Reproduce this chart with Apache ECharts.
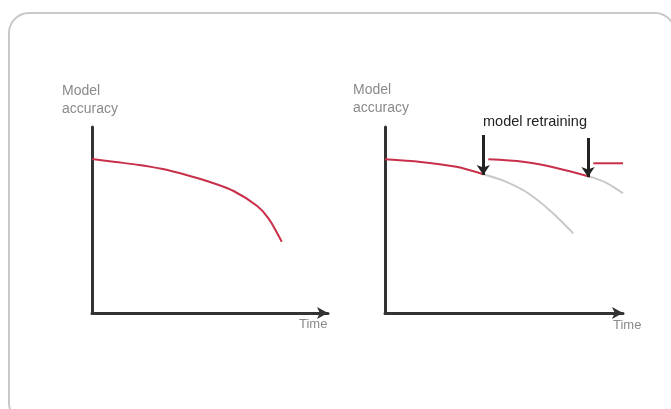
<!DOCTYPE html>
<html>
<head>
<meta charset="utf-8">
<script src="https://cdn.jsdelivr.net/npm/echarts@6/dist/echarts.min.js"></script>
<style>
  html, body { margin: 0; padding: 0; background: #fff; }
  #chart { width: 671px; height: 409px; }
</style>
</head>
<body>
<div id="chart"></div>
<script>
// left panel: accuracy decays over time
var decayX = [0, 10, 20, 30, 40, 50, 60, 70, 75, 80.4]
var decayY = [82.8, 81.2, 79.6, 77.4, 74.2, 70.4, 65.6, 57.5, 50.5, 38.3]

// right panel: with retraining
var retrain1X = [0, 15, 30, 41.3]
var retrain1Y = [82.6, 81.2, 78.6, 74.6]
var retrain2X = [43.4, 58, 72, 86.1]
var retrain2Y = [82.6, 81.3, 78.0, 73.3]
var retrain3X = [87.5, 100]
var retrain3Y = [80.5, 80.5]
var ghost1X = [41.3, 50, 60, 70, 79.1]
var ghost1Y = [74.6, 71.0, 64.5, 54.3, 42.8]
var ghost2X = [86.1, 93, 100]
var ghost2Y = [73.3, 70.0, 64.4]

// retraining arrows: x, top, bottom
var arrowX = [41.3, 85.3]
var arrowTop = [95.7, 94.1]
var arrowBottom = [74.2, 73.1]

var yName = 'Model\naccuracy'
var xName = 'Time'
var retrainLabel = 'model retraining'

function pairs(xs, ys) {
  return xs.map(function (x, i) { return [x, ys[i]] })
}

var axisColor = '#333'
var red = '#c8304a'
var ghost = '#c8c8c8'

var chart = echarts.init(document.getElementById('chart'))

function xAxisOf(gridIndex) {
  return {
    type: 'value', gridIndex: gridIndex, min: 0, max: 100,
    splitLine: { show: false },
    axisTick: { show: false },
    axisLabel: { show: false },
    axisLine: {
      show: true,
      symbol: ['none', 'arrow'],
      symbolSize: [9, 11],
      lineStyle: { color: axisColor, width: 3 }
    }
  }
}
function yAxisOf(gridIndex) {
  return {
    type: 'value', gridIndex: gridIndex, min: 0, max: 100,
    splitLine: { show: false },
    axisTick: { show: false },
    axisLabel: { show: false },
    axisLine: { show: true, lineStyle: { color: axisColor, width: 3 } }
  }
}

var lineBase = { type: 'line', smooth: 0.3, symbol: 'none', animation: false }

chart.setOption({
  animation: false,
  grid: [
    { left: 92, top: 127, width: 236, height: 186 },
    { left: 385, top: 127, width: 238, height: 186 }
  ],
  xAxis: [xAxisOf(0), xAxisOf(1)],
  yAxis: [yAxisOf(0), yAxisOf(1)],
  graphic: [
    {
      type: 'rect', silent: true,
      shape: { x: 9, y: 13, width: 666, height: 410, r: 20 },
      style: { fill: 'none', stroke: '#c8c8c8', lineWidth: 2 }
    },
    { type: 'text', left: 62, top: 82, style: { text: yName, fill: '#8a8a8a', font: '14px Liberation Sans', lineHeight: 18 } },
    { type: 'text', left: 353, top: 81, style: { text: yName, fill: '#8a8a8a', font: '14px Liberation Sans', lineHeight: 18 } },
    { type: 'text', left: 299, top: 318, style: { text: xName, fill: '#8a8a8a', font: '13px Liberation Sans' } },
    { type: 'text', left: 613, top: 319, style: { text: xName, fill: '#8a8a8a', font: '13px Liberation Sans' } },
    { type: 'text', left: 483, top: 114, style: { text: retrainLabel, fill: '#222', font: '14.5px Liberation Sans' } }
  ],
  series: [
    Object.assign({}, lineBase, {
      xAxisIndex: 0, yAxisIndex: 0, data: pairs(decayX, decayY),
      lineStyle: { color: red, width: 2 }
    }),
    Object.assign({}, lineBase, {
      xAxisIndex: 1, yAxisIndex: 1, data: pairs(ghost1X, ghost1Y),
      lineStyle: { color: ghost, width: 2 }
    }),
    Object.assign({}, lineBase, {
      xAxisIndex: 1, yAxisIndex: 1, data: pairs(ghost2X, ghost2Y),
      lineStyle: { color: ghost, width: 2 }
    }),
    Object.assign({}, lineBase, {
      xAxisIndex: 1, yAxisIndex: 1, data: pairs(retrain1X, retrain1Y),
      lineStyle: { color: red, width: 2 }
    }),
    Object.assign({}, lineBase, {
      xAxisIndex: 1, yAxisIndex: 1, data: pairs(retrain2X, retrain2Y),
      lineStyle: { color: red, width: 2 }
    }),
    Object.assign({}, lineBase, {
      xAxisIndex: 1, yAxisIndex: 1, data: pairs(retrain3X, retrain3Y),
      lineStyle: { color: red, width: 2 },
      markLine: {
        silent: true,
        symbol: ['none', 'arrow'],
        symbolSize: [10, 10],
        label: { show: false },
        lineStyle: { color: '#222', width: 3, type: 'solid' },
        data: arrowX.map(function (x, i) {
          return [{ coord: [x, arrowTop[i]] }, { coord: [x, arrowBottom[i]] }]
        })
      }
    })
  ]
})
</script>
</body>
</html>
